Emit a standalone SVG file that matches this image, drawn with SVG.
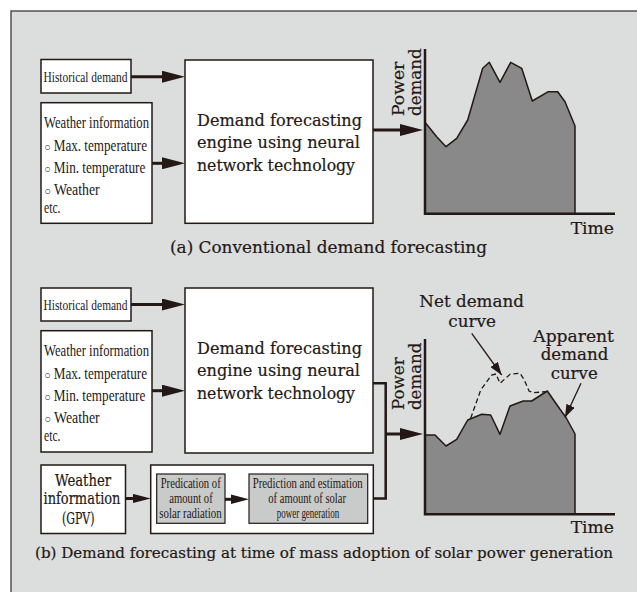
<svg xmlns="http://www.w3.org/2000/svg" width="637" height="592" viewBox="0 0 637 592">
  <defs>
    <style>
      .frame{fill:#dcdddd;stroke:#3e3a39;stroke-width:1.3}
      .box{fill:#fff;stroke:#231815;stroke-width:1.5}
      .inner{fill:#c9caca;stroke:#231815;stroke-width:1.2}
      .cond{font-family:"Liberation Serif","Times New Roman",serif;fill:#231815}
      .serif{font-family:"DejaVu Serif","Liberation Serif",serif;fill:#231815;stroke:#231815;stroke-width:0.2}
      .shaft{stroke:#231815;stroke-width:3;fill:none}
      .wire{stroke:#231815;stroke-width:2.5;fill:none;stroke-linejoin:miter}
      .thin{stroke:#231815;stroke-width:1.3;fill:none}
      .axis{stroke:#231815;stroke-width:2.5;fill:none}
      .area{fill:#898989;stroke:#231815;stroke-width:1.5;stroke-linejoin:round}
      .net{stroke:#231815;stroke-width:1.3;fill:none;stroke-dasharray:5 3}
      .bullet{font-size:12px}
    </style>
    <marker id="headL" markerUnits="userSpaceOnUse" markerWidth="23" markerHeight="12" refX="12" refY="6" orient="auto">
      <path d="M0,0 L23,6 L0,12 Z" fill="#231815"/>
    </marker>
    <marker id="headS" markerUnits="userSpaceOnUse" markerWidth="18" markerHeight="10" refX="9" refY="5" orient="auto">
      <path d="M0,0.3 L18,5 L0,9.7 Z" fill="#231815"/>
    </marker>
    <marker id="headT" markerUnits="userSpaceOnUse" markerWidth="13" markerHeight="9" refX="13" refY="4.5" orient="auto">
      <path d="M0,0 L13,4.5 L0,9 Z" fill="#231815"/>
    </marker>
  </defs>

  <rect x="0" y="0" width="637" height="592" fill="#fff"/>
  <rect class="frame" x="11" y="11" width="640" height="600"/>

  <!-- ===== (a) conventional forecasting ===== -->
  <g id="a-historical">
    <rect class="box" x="41" y="59.5" width="90" height="33.5"/>
    <text class="cond" x="43.5" y="81.5" font-size="15" textLength="84" lengthAdjust="spacingAndGlyphs">Historical demand</text>
  </g>
  <g id="a-weather">
    <rect class="box" x="41" y="102.7" width="111" height="120.6"/>
    <g class="cond" font-size="16">
      <text x="44" y="128.3" textLength="105" lengthAdjust="spacingAndGlyphs">Weather information</text>
      <text x="44.5" y="150.7" textLength="102.5" lengthAdjust="spacingAndGlyphs"><tspan class="bullet">○</tspan> Max. temperature</text>
      <text x="44.5" y="173.3" textLength="100.8" lengthAdjust="spacingAndGlyphs"><tspan class="bullet">○</tspan> Min. temperature</text>
      <text x="44.5" y="195" textLength="55.2" lengthAdjust="spacingAndGlyphs"><tspan class="bullet">○</tspan> Weather</text>
      <text x="44" y="213.3" textLength="16.5" lengthAdjust="spacingAndGlyphs">etc.</text>
    </g>
  </g>
  <g id="a-engine">
    <rect class="box" x="185" y="60" width="188" height="163.3"/>
    <g class="serif" font-size="16.5">
      <text x="197" y="126" textLength="165" lengthAdjust="spacingAndGlyphs">Demand forecasting</text>
      <text x="197" y="148" textLength="163" lengthAdjust="spacingAndGlyphs">engine using neural</text>
      <text x="197" y="170.5" textLength="158" lengthAdjust="spacingAndGlyphs">network technology</text>
    </g>
  </g>
  <g id="a-chart">
    <polygon class="area" points="425,122.3 436.7,136.7 446,146.7 456.7,138.3 467.7,120 482.7,68.3 489.3,62.3 500,82.3 510.7,62.3 521.7,68.3 532.3,101 548.3,91.7 557.7,91.7 565,101.7 575,126 575,213.7 425,213.7"/>
    <path class="axis" d="M425,49 V213.7 H615"/>
    <g class="serif" font-size="17">
      <text transform="translate(403.5,116) rotate(-90)" textLength="54.3" lengthAdjust="spacingAndGlyphs">Power</text>
      <text transform="translate(421.3,116) rotate(-90)" textLength="67.7" lengthAdjust="spacingAndGlyphs">demand</text>
      <text x="570.7" y="234" textLength="43.3" lengthAdjust="spacingAndGlyphs">Time</text>
    </g>
  </g>
  <text id="a-caption" class="serif" x="170" y="252.7" font-size="17" textLength="317" lengthAdjust="spacingAndGlyphs">(a) Conventional demand forecasting</text>

  <!-- ===== (b) forecasting with mass solar adoption ===== -->
  <g id="b-historical">
    <rect class="box" x="41" y="288" width="90" height="33"/>
    <text class="cond" x="43.5" y="309.8" font-size="15" textLength="84" lengthAdjust="spacingAndGlyphs">Historical demand</text>
  </g>
  <g id="b-weather">
    <rect class="box" x="41" y="330.7" width="111" height="121.3"/>
    <g class="cond" font-size="16">
      <text x="44" y="356.3" textLength="105" lengthAdjust="spacingAndGlyphs">Weather information</text>
      <text x="44.5" y="378.7" textLength="102.5" lengthAdjust="spacingAndGlyphs"><tspan class="bullet">○</tspan> Max. temperature</text>
      <text x="44.5" y="401.3" textLength="100.8" lengthAdjust="spacingAndGlyphs"><tspan class="bullet">○</tspan> Min. temperature</text>
      <text x="44.5" y="423" textLength="55.2" lengthAdjust="spacingAndGlyphs"><tspan class="bullet">○</tspan> Weather</text>
      <text x="44" y="441.3" textLength="16.5" lengthAdjust="spacingAndGlyphs">etc.</text>
    </g>
  </g>
  <g id="b-engine">
    <rect class="box" x="185" y="288" width="188" height="165"/>
    <g class="serif" font-size="16.5">
      <text x="197" y="354" textLength="165" lengthAdjust="spacingAndGlyphs">Demand forecasting</text>
      <text x="197" y="376" textLength="163" lengthAdjust="spacingAndGlyphs">engine using neural</text>
      <text x="197" y="398.5" textLength="158" lengthAdjust="spacingAndGlyphs">network technology</text>
    </g>
  </g>
  <g id="b-gpv">
    <rect class="box" x="41" y="465" width="84.5" height="68.5"/>
    <g class="serif" font-size="16.5">
      <text x="55" y="485.5" textLength="56" lengthAdjust="spacingAndGlyphs">Weather</text>
      <text x="43.5" y="503.5" textLength="77" lengthAdjust="spacingAndGlyphs">information</text>
      <text x="62" y="523.5" textLength="32.5" lengthAdjust="spacingAndGlyphs">(GPV)</text>
    </g>
  </g>
  <g id="b-solar">
    <rect class="box" x="150.7" y="465" width="222.6" height="68.5"/>
    <g id="b-radiation">
      <rect class="inner" x="156.7" y="474" width="68.3" height="49.3"/>
      <g class="cond" font-size="14">
        <text x="160.7" y="487.7" textLength="60" lengthAdjust="spacingAndGlyphs">Predication of</text>
        <text x="169.3" y="502.7" textLength="43.4" lengthAdjust="spacingAndGlyphs">amount of</text>
        <text x="159.3" y="517.7" textLength="62.4" lengthAdjust="spacingAndGlyphs">solar radiation</text>
      </g>
    </g>
    <g id="b-generation">
      <rect class="inner" x="249" y="474" width="118.7" height="49.3"/>
      <g class="cond" font-size="14">
        <text x="252.7" y="487.7" textLength="110" lengthAdjust="spacingAndGlyphs">Prediction and estimation</text>
        <text x="268.3" y="502.7" textLength="77.7" lengthAdjust="spacingAndGlyphs">of amount of solar</text>
        <text x="276.7" y="517.7" textLength="62.6" lengthAdjust="spacingAndGlyphs">power generation</text>
      </g>
    </g>
  </g>
  <g id="b-chart">
    <polygon class="area" points="425,435 435,435 446,446 456.7,439.3 467.7,420 481.7,414.3 490.7,415 500,434.3 510,406 523.3,401 531.7,401 547.3,391 560,409.3 566,417.5 575,434 575,514.3 425,514.3"/>
    <path class="net" d="M470.7,418.3 L480.7,390 L491.7,375 L496,374 L500,383.3 L510,374.3 L520,373.3 L524,379.3 L529,391 L533.3,392.7 L546,391.7"/>
    <path class="axis" d="M425,339 V514.3 H615"/>
    <g class="serif" font-size="17">
      <text transform="translate(403.5,410) rotate(-90)" textLength="52.7" lengthAdjust="spacingAndGlyphs">Power</text>
      <text transform="translate(421.3,410) rotate(-90)" textLength="67.3" lengthAdjust="spacingAndGlyphs">demand</text>
      <text x="570.7" y="533.3" textLength="43.3" lengthAdjust="spacingAndGlyphs">Time</text>
      <text x="419.3" y="307.3" textLength="104.7" lengthAdjust="spacingAndGlyphs">Net demand</text>
      <text x="448.3" y="326.7" textLength="47.7" lengthAdjust="spacingAndGlyphs">curve</text>
      <text x="533.3" y="341.7" textLength="80.7" lengthAdjust="spacingAndGlyphs">Apparent</text>
      <text x="540.7" y="360" textLength="67.6" lengthAdjust="spacingAndGlyphs">demand</text>
      <text x="550.7" y="379.3" textLength="47" lengthAdjust="spacingAndGlyphs">curve</text>
    </g>
  </g>
  <text id="b-caption" class="serif" x="35" y="558.3" font-size="15.1" textLength="578" lengthAdjust="spacingAndGlyphs">(b) Demand forecasting at time of mass adoption of solar power generation</text>

  <!-- ===== connectors ===== -->
  <g id="connectors">
    <!-- (a) -->
    <line class="shaft" x1="131" y1="76.7" x2="174" y2="76.7" marker-end="url(#headL)"/>
    <line class="shaft" x1="152" y1="163.3" x2="174" y2="163.3" marker-end="url(#headL)"/>
    <line class="shaft" x1="373" y1="130" x2="412" y2="130" marker-end="url(#headL)"/>
    <!-- (b) -->
    <line class="shaft" x1="131" y1="304.5" x2="174" y2="304.5" marker-end="url(#headL)"/>
    <line class="shaft" x1="152" y1="390.7" x2="174" y2="390.7" marker-end="url(#headL)"/>
    <line class="shaft" x1="125.5" y1="498.5" x2="141.7" y2="498.5" marker-end="url(#headS)"/>
    <line class="shaft" x1="225" y1="499.3" x2="240" y2="499.3" marker-end="url(#headS)"/>
    <polyline class="wire" points="373,383.3 385.7,383.3 385.7,498.5 373.3,498.5"/>
    <line class="shaft" x1="385.7" y1="434" x2="412" y2="434" marker-end="url(#headL)"/>
    <line class="thin" x1="471.7" y1="333.3" x2="501.7" y2="375" marker-end="url(#headT)"/>
    <line class="thin" x1="581" y1="383.3" x2="565" y2="417.5" marker-end="url(#headT)"/>
  </g>
</svg>
